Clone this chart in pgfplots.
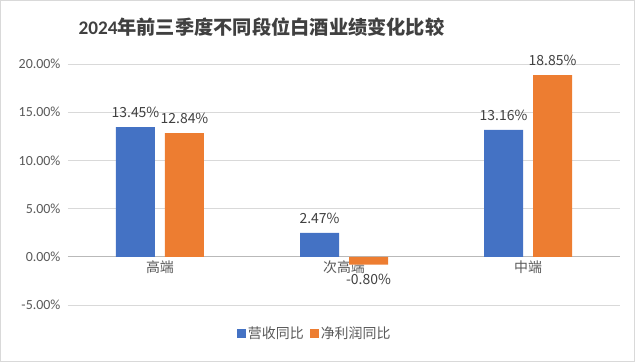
\documentclass[border=0pt]{standalone}
\usepackage{fontspec}
\setmainfont{Carlito}
\newfontfamily\cjk{Noto Sans CJK SC}
\usepackage{pgfplots}
\pgfplotsset{compat=1.18}
\definecolor{cblue}{HTML}{4472C4}
\definecolor{corange}{HTML}{ED7D31}
\definecolor{tgray}{HTML}{595959}
\definecolor{dgray}{HTML}{404040}
\definecolor{ggray}{HTML}{D9D9D9}
\begin{document}
\begin{tikzpicture}[x=1bp,y=1bp]
\draw[ggray, line width=0.75bp] (0.4,0.4) rectangle (634.6,361.6);
\node[text=dgray, inner sep=0pt] at (261.5,335) {\fontsize{19.3}{22}\selectfont\bfseries 2024{\cjk\bfseries 年前三季度不同段位白酒业绩变化比较}};
\begin{axis}[
  at={(68bp,57bp)}, anchor=south west,
  scale only axis, width=552bp, height=241bp,
  ybar=10bp, bar width=39bp,
  xmin=-0.5, xmax=2.5, ymin=-5, ymax=20,
  xtick=data, xticklabels={高端,次高端,中端},
  ytick={-5,0,5,10,15,20},
  axis line style={draw=none},
  major tick length=0pt,
  ymajorgrids, grid style={ggray, line width=0.75bp},
  extra y ticks={0}, extra y tick labels={},
  extra y tick style={grid style={draw=gray!55, line width=0.75bp}},
  /pgf/number format/assume math mode=true,
  yticklabel={\pgfmathprintnumber[fixed,fixed zerofill,precision=2]{\tick}\%},
  yticklabel style={font=\fontsize{14}{16}\selectfont, text=tgray, xshift=-4bp},
  xticklabel style={font=\fontsize{14}{16}\selectfont\cjk, text=tgray, yshift=48.2bp},
  nodes near coords={\pgfmathprintnumber[fixed,fixed zerofill,precision=2]{\pgfplotspointmeta}\%},
  nodes near coords style={font=\fontsize{14}{16}\selectfont\cjk, text=dgray, inner ysep=9bp},
  legend style={at={(0.447,-0.118)}, anchor=center, draw=none, fill=none,
    legend columns=2, font=\fontsize{14}{16}\selectfont\cjk, text=tgray,
    /tikz/every even column/.append style={column sep=4bp}},
  legend image code/.code={\fill[#1] (0bp,-4.5bp) rectangle (9bp,4.5bp);},
]
\addplot[fill=cblue, draw=none] coordinates {(0,13.45) (1,2.47) (2,13.16)};
\addplot[fill=corange, draw=none] coordinates {(0,12.84) (1,-0.80) (2,18.85)};
\legend{营收同比,净利润同比}
\end{axis}
\end{tikzpicture}
\end{document}
